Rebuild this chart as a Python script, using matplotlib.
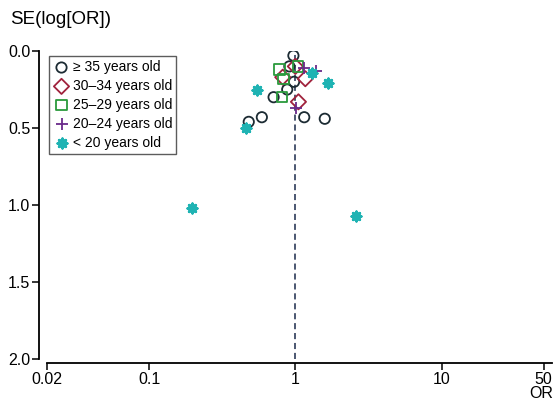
import matplotlib
matplotlib.use('Agg')
import matplotlib.pyplot as plt
import numpy as np

plt.rcParams['font.family'] = ['Liberation Sans', 'DejaVu Sans']

# odds ratios and standard errors
or_35 = [0.97, 0.91, 0.98, 0.88, 0.71, 0.59, 0.48, 1.15, 1.59]
se_35 = [0.03, 0.10, 0.20, 0.25, 0.30, 0.43, 0.46, 0.43, 0.44]
or_30 = [0.82, 1.17, 1.05, 1.00]
se_30 = [0.17, 0.18, 0.33, 0.10]
or_25 = [0.78, 0.83, 1.04, 0.81]
se_25 = [0.12, 0.18, 0.10, 0.30]
or_20 = [1.15, 1.39, 1.01]
se_20 = [0.11, 0.13, 0.37]
or_lt20 = [0.55, 1.29, 1.66, 0.46, 0.197, 2.58]
se_lt20 = [0.25, 0.14, 0.21, 0.50, 1.02, 1.07]

labels = ['\u2265 35 years old', '30\u201334 years old', '25\u201329 years old',
          '20\u201324 years old', '< 20 years old']
xticks = [0.02, 0.1, 1, 10, 50]
xtick_labels = ['0.02', '0.1', '1', '10', '50']
yticks = [0.0, 0.5, 1.0, 1.5, 2.0]

fig = plt.figure(figsize=(5.55, 4.01), dpi=100)
ax = fig.add_axes([47 / 555, 1 - 359 / 401, 505 / 555, 308 / 401])

ax.axvline(1, color='#1a2a4a', lw=1.1, ls=(0, (4, 2.5)), zorder=1)

ax.scatter(or_35, se_35, s=55, marker='o', facecolors='none', edgecolors='#1c2b33', linewidths=1.3, label=labels[0], zorder=3)
ax.scatter(or_30, se_30, s=60, marker='D', facecolors='none', edgecolors='#a0223c', linewidths=1.3, label=labels[1], zorder=3)
ax.scatter(or_25, se_25, s=55, marker='s', facecolors='none', edgecolors='#2a9a3c', linewidths=1.3, label=labels[2], zorder=3)
ax.scatter(or_20, se_20, s=70, marker='+', color='#6a2a8a', linewidths=1.3, label=labels[3], zorder=3)
ax.scatter(or_lt20, se_lt20, s=45, marker=(8, 2, 0), color='#1fb3b3', linewidths=2.0, label=labels[4], zorder=3)

ax.set_xscale('log')
ax.set_xlim(0.02, 57)
ax.set_ylim(2.0, 0.0)
ax.set_xticks(xticks)
ax.set_xticklabels(xtick_labels)
ax.xaxis.set_minor_locator(matplotlib.ticker.NullLocator())
ax.set_yticks(yticks)
ax.set_yticklabels(['%.1f' % v for v in yticks])

for s in ['top', 'right']:
    ax.spines[s].set_visible(False)
ax.spines['left'].set_position(('outward', 6))
ax.spines['bottom'].set_position(('outward', 3))
ax.spines['left'].set_bounds(0, 2)
ax.spines['left'].set_linewidth(1.3)
ax.spines['bottom'].set_linewidth(1.3)
ax.tick_params(direction='out', length=5, width=1.1, labelsize=11.5, pad=1)

fig.text(10 / 555, 1 - 20 / 401, 'SE(log[OR])', fontsize=13.5, va='center', ha='left')
fig.text(553 / 555, 0.5 / 401, 'OR', fontsize=11.5, va='bottom', ha='right')

leg = ax.legend(loc='upper left', bbox_to_anchor=(49 / 555, 1 - 56 / 401),
                bbox_transform=fig.transFigure, fontsize=10, frameon=True,
                fancybox=False, borderpad=0.3, labelspacing=0.35,
                handletextpad=0.2, handlelength=1.2, borderaxespad=0)
leg.get_frame().set_edgecolor('#333333')
leg.get_frame().set_linewidth(1.0)

fig.savefig('out.png', dpi=100)
